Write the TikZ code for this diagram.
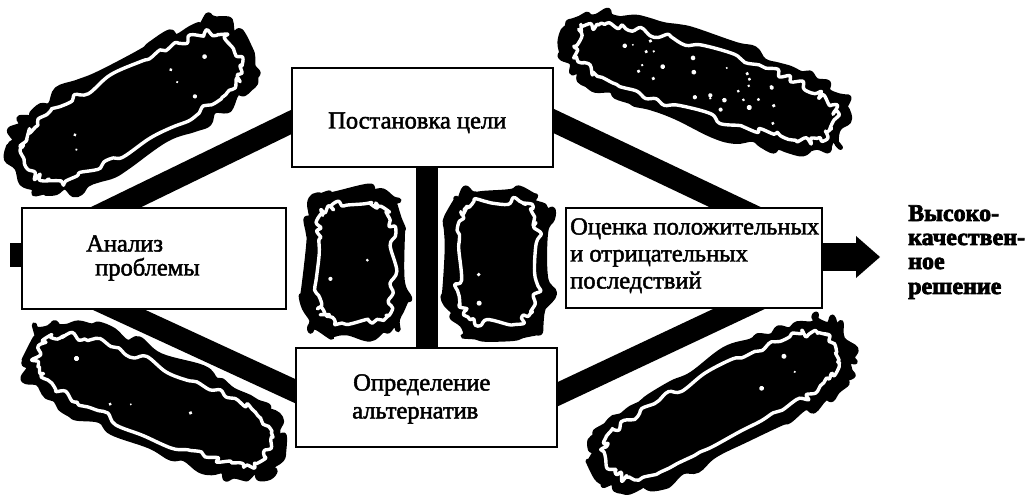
\documentclass[tikz,border=0pt]{standalone}
\usepackage{fontspec}
\setmainfont{Liberation Serif}
\newfontfamily\lblfont{Liberation Serif}[FakeBold=2]
\newfontfamily\resfont{Liberation Serif}[FakeBold=3]
\usetikzlibrary{backgrounds,calc}
\tikzset{
  box/.style={draw=black, line width=1.8pt, fill=white, inner sep=0pt},
  conn/.style={line width=22pt, black, shorten <=-25pt, shorten >=-25pt},
  lbl/.style={anchor=base west, inner sep=0pt, font=\lblfont\fontsize{24.5}{27}\selectfont},
  res/.style={anchor=base west, inner sep=0pt, font=\resfont\bfseries\fontsize{24}{24}\selectfont},
  blobout/.style={fill=black, draw=black, line width=5pt, line join=round},
  blobring/.style={draw=white, line width=3.4pt, line join=round},
}
% x, y, angle, half length, half width, exponent, samples, seed, specks
\newcommand\myblob[9]{%
  \begin{scope}[shift={(#1,#2)}, rotate=#3]
    \pgfmathsetseed{#8}
    \pgfmathsetmacro\ba{#4-12}\pgfmathsetmacro\bb{#5-12}
    \pgfmathsetmacro\tend{362-360/#7}
    \pgfmathsetmacro\tenb{362-360/(#7+24)}
    \path[blobout] plot[smooth cycle, tension=0.65, samples=#7, domain=2:\tend, variable=\t]
      ({#4*(cos(\t)<0?-1:1)*pow(abs(cos(\t)),#6)+5.4*rand},
       {#5*(sin(\t)<0?-1:1)*pow(abs(sin(\t)),#6)+5.4*rand});
    \path[blobring] plot[smooth cycle, tension=0.6, samples=#7+24, domain=2:\tenb, variable=\t]
      ({\ba*(cos(\t)<0?-1:1)*pow(abs(cos(\t)),#6)+3.9*rand},
       {\bb*(sin(\t)<0?-1:1)*pow(abs(sin(\t)),#6)+3.9*rand});
    \foreach \k in {1,...,#9}{
      \fill[white] ({0.8*\ba*rand},{0.7*\bb*rand}) circle[radius={1+1.6*rnd}];
    }
  \end{scope}}
\begin{document}
\begin{tikzpicture}[x=1pt, y=-1pt]
\useasboundingbox (0,0) rectangle (1031,497);
% boxes
\node[box, minimum width=264pt, minimum height=101pt] (A) at (154,258.5) {};
\node[box, minimum width=261pt, minimum height=99pt] (B) at (422.5,117.5) {};
\node[box, minimum width=261pt, minimum height=99pt] (C) at (426.5,397.5) {};
\node[box, minimum width=256pt, minimum height=100pt] (D) at (694,258) {};
% texts
\node[lbl] (ta1) at (86,251.5) {Анализ};
\node[lbl] (ta2) at (95,275.5) {проблемы};
\node[lbl] (tb) at (328,128.5) {Постановка цели};
\node[lbl] (tc1) at (353,390.5) {Определение};
\node[lbl] (tc2) at (352,418.5) {альтернатив};
\node[lbl] (td1) at (570,234.5) {Оценка положительных};
\node[lbl] (td2) at (570,261.5) {и отрицательных};
\node[lbl] (td3) at (570,288.5) {последствий};
\node[res] (tr1) at (908,221) {Высоко-};
\node[res] (tr2) at (908,245) {качествен-};
\node[res] (tr3) at (908,269) {ное};
\node[res] (tr4) at (908,294) {решение};
% connectors (behind the boxes)
\begin{scope}[on background layer]
  \fill[white] (0,0) rectangle (1031,497);
  \draw[conn] ($(A.north west)+(95,0)$) -- ($(B.north west)+(0,55)$);
  \draw[conn] ($(A.south west)+(98,0)$) -- ($(C.north west)+(0,44)$);
  \draw[conn] ($(B.north east)+(0,54)$) -- ($(D.north west)+(170,0)$);
  \draw[conn] ($(C.north east)+(0,47)$) -- ($(D.south west)+(174,0)$);
  \draw[conn] (C.north |- B.south) -- (C.north);
  \coordinate (in) at (10,255);
  \draw[line width=24pt] (in) -- (in -| A.west);
  \coordinate (hb) at (857,257);
  \draw[line width=27pt] (D.east |- hb) -- (hb);
  \coordinate (tip) at (880,257);
  \fill ($(hb)+(-1,-21)$) -- (tip) -- ($(hb)+(-1,21)$) -- cycle;
\end{scope}
% blobs
\myblob{132}{108}{29}{130}{48}{0.55}{62}{11}{6}
\myblob{705}{82}{-18}{147}{44}{0.65}{68}{23}{28}
\myblob{154}{400}{-23}{137}{46}{0.65}{62}{37}{4}
\myblob{722}{405}{27}{140}{45}{0.6}{62}{41}{3}
\myblob{355}{263}{0}{50}{72}{0.5}{40}{53}{2}
\myblob{498}{262}{0}{52}{73}{0.5}{40}{67}{2}
\end{tikzpicture}
\end{document}
